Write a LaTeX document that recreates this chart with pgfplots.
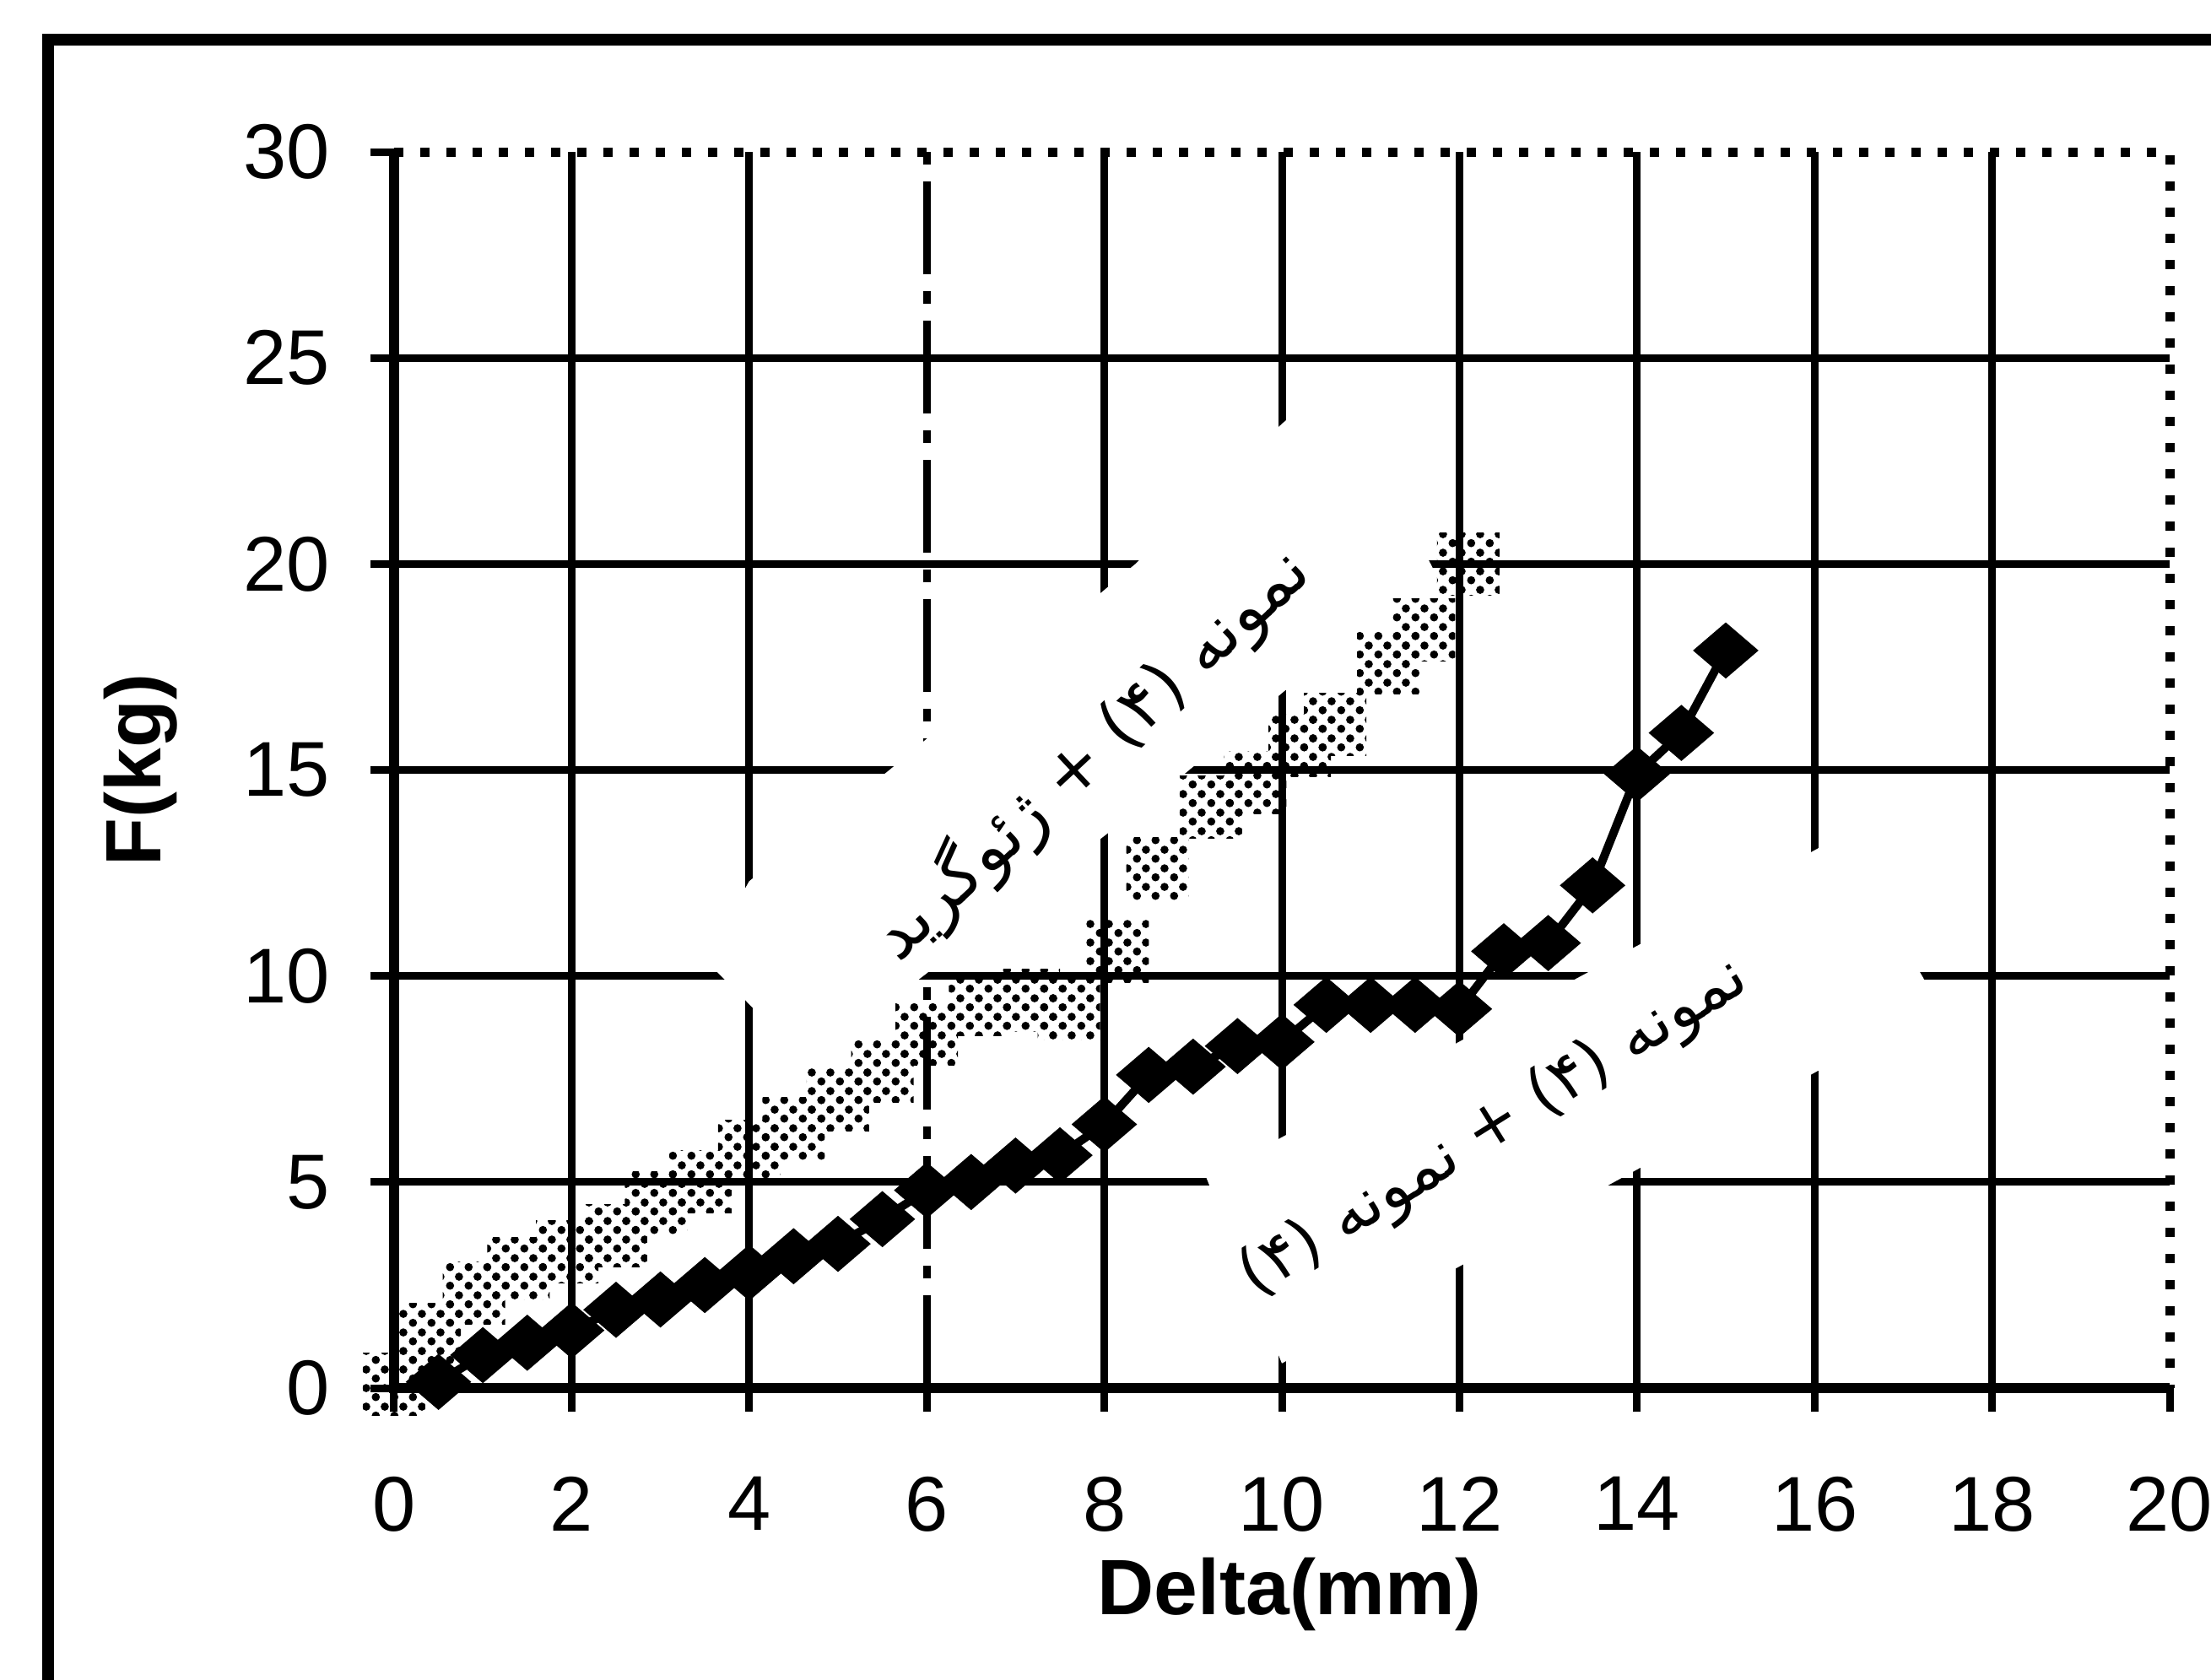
\documentclass[border=0pt]{standalone}
\usepackage{fontspec}
\setmainfont{Liberation Sans}
\newfontfamily\arabicfont[Script=Arabic]{DejaVu Sans}
\TeXXeTstate=1
\usepackage{pgfplots}
\pgfplotsset{compat=1.18}
\usepackage{pgfplotstable}
\usetikzlibrary{patterns}

\pgfdeclareplotmark{wdiamond}{%
  \pgfpathmoveto{\pgfqpoint{0pt}{3.0pt}}%
  \pgfpathlineto{\pgfqpoint{3.5pt}{0pt}}%
  \pgfpathlineto{\pgfqpoint{0pt}{-3.0pt}}%
  \pgfpathlineto{\pgfqpoint{-3.5pt}{0pt}}%
  \pgfpathclose
  \pgfusepathqfillstroke}

\pgfdeclarepatternformonly{checkdots}{\pgfqpoint{0pt}{0pt}}{\pgfqpoint{2.2pt}{2.2pt}}{\pgfqpoint{2.2pt}{2.2pt}}{%
  \pgfpathcircle{\pgfqpoint{0.55pt}{0.55pt}}{0.5pt}%
  \pgfpathcircle{\pgfqpoint{1.65pt}{1.65pt}}{0.5pt}%
  \pgfusepath{fill}}

\pgfplotstableread{
x y
0.5 0.15
1 0.8
1.5 1.1
2 1.4
2.5 1.9
3 2.15
3.5 2.5
4 2.8
4.5 3.2
5 3.5
5.5 4.1
6 4.8
6.5 5.0
7 5.4
7.5 5.65
8 6.4
8.5 7.6
9 7.8
9.5 8.3
10 8.4
10.5 9.3
11 9.3
11.5 9.3
12 9.2
12.5 10.6
13 10.8
13.5 12.2
14 14.9
14.5 15.9
15 17.9
}\blackdata

\pgfplotstableread{
x y
0 0.1
0.4 1.3
0.9 2.3
1.4 2.9
1.95 3.3
2.5 3.7
2.95 4.5
3.45 5.0
4.0 5.75
4.5 6.3
5.0 7.0
5.5 7.7
6.0 8.6
6.6 9.3
7.15 9.4
7.6 9.2
8.15 10.6
8.6 12.6
9.2 14.1
9.7 14.7
10.2 15.6
10.6 16.1
11.2 17.6
11.6 18.4
12.1 20.0
}\greydata

\begin{document}
\begin{tikzpicture}
\useasboundingbox (0,0) rectangle (262pt,199pt);
\draw[line width=1.4pt] (5.7pt,-20pt) rectangle (300pt,194.3pt);
\begin{axis}[
  at={(46.7pt,34.5pt)}, anchor=south west,
  scale only axis, width=210.4pt, height=146.5pt,
  xmin=0, xmax=20, ymin=0, ymax=30,
  xtick={0,2,...,20}, ytick={0,5,...,30},
  clip=false,
  axis line style={draw=none},
  tick align=outside, tick pos=left,
  major tick length=2.8pt,
  tick style={black, line width=0.9pt},
  /pgf/number format/assume math mode=true,
  tick label style={font=\fontsize{9.2}{10}\selectfont},
  xticklabel style={anchor=north, inner sep=0pt, yshift=-7.5pt},
  yticklabel style={anchor=east, inner sep=0pt, xshift=-4.6pt},
  xlabel={Delta(mm)}, ylabel={F(kg)},
  label style={font=\bfseries\fontsize{9.3}{10}\selectfont},
  xlabel style={at={(axis description cs:0.5,0)}, anchor=center, yshift=-24.4pt, xshift=0.9pt},
  ylabel style={at={(axis description cs:-0.1426,0.5)}, anchor=center},
]
% grid
\pgfplotsinvokeforeach{2,4,8,10,12,14,16,18}{
  \draw[black, line width=0.9pt] (axis cs:#1,0) -- (axis cs:#1,30);
}
\draw[black, line width=0.9pt, dash pattern=on 11pt off 2pt on 1.5pt off 2pt] (axis cs:6,0) -- (axis cs:6,30);
\pgfplotsinvokeforeach{5,10,15,20,25}{
  \draw[black, line width=0.9pt] (axis cs:0,#1) -- (axis cs:20,#1);
}
% white text boxes that cut the grid
\fill[white] (axis cs:3.5,10.4) -- (axis cs:4.1,9.1) -- (axis cs:5.9,9.9) -- (axis cs:8.9,14.9)
  -- (axis cs:11.7,19.9) -- (axis cs:10.6,24.5) -- (axis cs:10,23.4) -- (axis cs:8.35,20)
  -- (axis cs:5.58,15) -- (axis cs:4,12.3) -- cycle;
\fill[white] (axis cs:9.15,5.1) -- (axis cs:10,0.6) -- (axis cs:17.4,9.3) -- (axis cs:16.3,13.4) -- cycle;
% axis border
\draw[black, line width=1.2pt] (axis cs:0,30) -- (axis cs:0,0) -- (axis cs:20,0);
\draw[black, line width=1.1pt, dotted] (axis cs:0,30) -- (axis cs:20,30) -- (axis cs:20,0);

\addplot[only marks, mark=square*, mark size=3.7pt,
  mark options={pattern=checkdots, pattern color=black, draw opacity=0}]
  table[x=x, y=y] {\greydata};
\addplot[black, line width=1pt, mark=wdiamond,
  mark options={fill=black, solid, line width=0.5pt}]
  table[x=x, y=y] {\blackdata};

\node[rotate=43, font=\arabicfont\fontsize{8}{9}\selectfont] at (axis cs:7.85,15.4)
  {\beginR نمونه (۴) + ژئوگرید\endR};
\node[rotate=32, font=\arabicfont\fontsize{7.6}{9}\selectfont] at (axis cs:12.4,6.3)
  {\beginR نمونه (۴) + نمونه (۴)\endR};
\end{axis}
\end{tikzpicture}
\end{document}
